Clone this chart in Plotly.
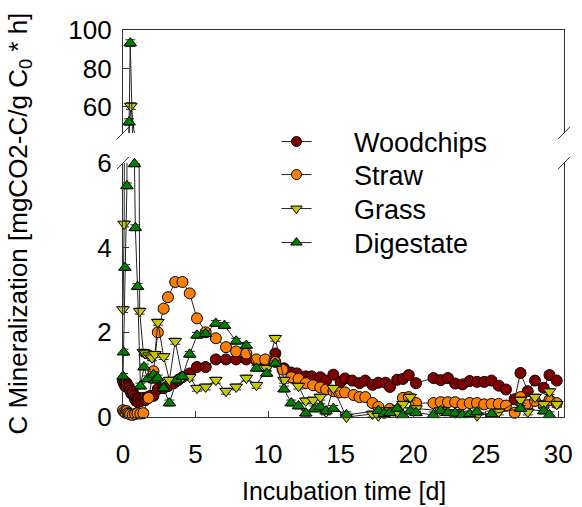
import plotly.graph_objects as go

# ---- measured mineralization rates [mgCO2-C / g C0 * h] over incubation time [d] ----
wood_t = [0.0, 0.08, 0.17, 0.25, 0.33, 0.42, 0.5, 0.58, 0.67, 0.75, 0.83, 0.92, 1.0, 1.1, 1.25,
          1.4, 1.55, 1.7, 1.9, 2.1, 2.4, 2.8, 3.1, 3.5, 3.8, 4.1, 4.6, 5.1, 5.7, 6.4, 7.1, 7.8,
          8.5, 9.2, 9.8, 10.5, 11.1, 11.6, 12.0, 12.6, 13.0, 13.6, 14.0, 14.5, 15.0, 15.3, 15.8,
          16.3, 16.7, 17.2, 17.6, 18.1, 18.4, 18.9, 19.3, 19.7, 20.2, 21.4, 21.9, 22.4, 22.9,
          23.4, 23.9, 24.4, 24.9, 25.4, 25.9, 26.4, 27.0, 27.4, 27.9, 28.4, 29.0, 29.4, 29.9]
wood_v = [0.85, 0.78, 0.72, 0.80, 0.75, 0.70, 0.62, 0.55, 0.60, 0.50, 0.42, 0.38, 0.35, 0.45, 0.38,
          0.45, 0.40, 0.47, 0.50, 0.50, 0.66, 0.68, 0.73, 0.80, 0.87, 0.94, 1.03, 1.18, 1.18, 1.36,
          1.36, 1.36, 1.36, 1.33, 1.33, 1.50, 1.15, 1.05, 1.03, 0.96, 0.96, 0.94, 0.86, 1.00, 0.83,
          0.91, 0.86, 0.80, 0.86, 0.76, 0.81, 0.81, 0.71, 0.88, 0.90, 0.99, 0.80, 0.92, 0.87, 0.92,
          0.79, 0.77, 0.85, 0.83, 0.83, 0.86, 0.74, 0.65, 0.42, 1.04, 0.61, 0.86, 0.69, 0.99, 0.86]

straw_t = [0.0, 0.08, 0.17, 0.25, 0.33, 0.42, 0.5, 0.67, 0.83, 1.0, 1.2, 1.4, 1.76, 2.1, 2.4, 2.8,
           3.1, 3.6, 4.1, 4.6, 5.1, 5.7, 6.4, 7.1, 7.8, 8.5, 9.2, 9.8, 10.5, 11.0, 11.6, 12.1, 12.6,
           13.1, 13.6, 14.0, 14.5, 14.9, 15.3, 15.9, 16.3, 16.7, 17.2, 17.6, 18.0, 18.4, 18.9, 19.3,
           19.7, 20.2, 21.4, 21.9, 22.4, 22.9, 23.4, 23.9, 24.4, 24.9, 25.4, 25.9, 26.4, 27.0, 27.4,
           27.9, 28.4, 29.0, 29.4, 29.9]
straw_v = [0.16, 0.12, 0.10, 0.14, 0.09, 0.08, 0.06, 0.05, 0.07, 0.09, 0.08, 0.09, 0.45, 1.08, 2.00,
           2.56, 2.83, 3.19, 3.19, 2.92, 2.33, 2.00, 1.86, 1.65, 1.55, 1.50, 1.36, 1.36, 1.30, 1.12,
           0.94, 0.90, 0.80, 0.75, 0.70, 0.65, 0.61, 0.58, 0.58, 0.52, 0.47, 0.47, 0.33, 0.24, 0.10,
           0.19, 0.15, 0.45, 0.47, 0.33, 0.33, 0.35, 0.35, 0.35, 0.30, 0.33, 0.33, 0.30, 0.31, 0.31,
           0.27, 0.10, 0.47, 0.28, 0.38, 0.27, 0.40, 0.33]

grass_t = [0.0, 0.08, 0.54, 1.15, 1.4, 1.55, 1.8, 2.0, 2.2, 2.4, 2.8, 3.2, 3.6, 4.1, 4.6, 5.1, 5.7,
           6.4, 7.1, 7.8, 8.5, 9.2, 9.9, 10.5, 11.1, 12.1, 12.6, 13.1, 13.6, 14.0, 14.5, 15.4, 17.2,
           17.6, 18.4, 18.9, 19.3, 19.8, 20.2, 21.9, 22.9, 24.4, 25.9, 27.4, 27.9, 28.4, 29.0, 29.4,
           29.9]
grass_v = [2.54, 4.56, 60.5, 2.50, 1.53, 1.50, 1.45, 1.40, 1.48, 2.24, 1.43, 0.87, 1.79, 0.94, 0.94,
           0.68, 0.71, 0.87, 0.61, 0.71, 0.92, 0.75, 1.15, 1.86, 0.87, 0.73, 0.38, 0.40, 0.47, 0.12,
           0.68, 0.00, 0.07, 0.03, 0.15, 0.10, 0.30, 0.47, 0.20, 0.15, 0.10, 0.03, 0.12, 0.40, 0.12,
           0.47, 0.30, 0.60, 0.30]

dig_t = [0.0, 0.04, 0.13, 0.27, 0.42, 0.5, 0.79, 0.85, 1.0, 1.2, 1.45, 1.7, 2.1, 2.2, 2.4, 2.8,
         3.2, 3.7, 4.1, 4.6, 5.1, 5.7, 6.4, 7.0, 7.8, 8.5, 9.2, 9.9, 10.5, 11.1, 11.6, 12.1, 12.6,
         13.2, 13.6, 14.0, 14.5, 15.4, 17.6, 18.0, 18.4, 18.9, 19.3, 19.8, 20.2, 21.4, 21.9, 22.4,
         22.9, 23.4, 23.9, 24.4, 25.4, 27.4, 29.0, 29.4]
dig_v = [0.96, 1.53, 3.53, 5.46, 52.2, 93.2, 5.98, 4.47, 3.08, 0.73, 1.18, 0.90, 1.00, 0.87, 0.92,
         0.68, 0.33, 0.87, 0.96, 1.48, 1.93, 1.97, 2.21, 2.16, 1.79, 1.69, 1.15, 1.03, 1.27, 0.66,
         0.33, 0.26, 0.09, 0.19, 0.24, 0.14, 0.20, 0.05, 0.15, 0.08, 0.10, 0.20, 0.05, 0.14, 0.10,
         0.05, 0.15, 0.10, 0.09, 0.05, 0.07, 0.12, 0.07, 0.20, 0.14, 0.05]

series = [
    ("Woodchips", wood_t, wood_v, "#800000", "circle"),
    ("Straw", straw_t, straw_v, "#FF8000", "circle"),
    ("Grass", grass_t, grass_v, "#C8C800", "triangle-down"),
    ("Digestate", dig_t, dig_v, "#008000", "triangle-up"),
]

LOW_RANGE = [0, 6.0]
HIGH_RANGE = [46.5, 100]
FONT = "Liberation Sans, Arial, sans-serif"
LINE = "#222222"
LEGEND_NAMES = ["legend", "legend2", "legend3", "legend4"]

fig = go.Figure()

for (name, t, v, color, symbol), lg in zip(series, LEGEND_NAMES):
    marker = dict(color=color, symbol=symbol, size=11, line=dict(color="#000000", width=1))
    for xa, ya, rng, err in (("x", "y", LOW_RANGE, 0.07), ("x2", "y2", HIGH_RANGE, 1.7)):
        # connecting line (clipped to the panel, so it runs off the edge at the axis break)
        fig.add_trace(go.Scatter(x=t, y=v, mode="lines", xaxis=xa, yaxis=ya,
                                 line=dict(color=LINE, width=1), cliponaxis=True,
                                 showlegend=False, legendgroup=name, hoverinfo="skip"))
        # markers inside this panel's range
        pts = [(a, b) for a, b in zip(t, v) if rng[0] <= b <= rng[1]]
        fig.add_trace(go.Scatter(x=[p[0] for p in pts], y=[p[1] for p in pts], mode="markers",
                                 xaxis=xa, yaxis=ya, marker=marker, cliponaxis=False,
                                 error_y=dict(type="constant", value=err, color=LINE,
                                              thickness=1, width=5),
                                 showlegend=False, legendgroup=name, name=name))
    # legend entry (one legend box per series, stacked)
    fig.add_trace(go.Scatter(x=[None], y=[None], mode="lines+markers", xaxis="x", yaxis="y",
                             name="\u00a0\u00a0\u00a0\u00a0\u00a0" + name, legendgroup=name,
                             legend=lg,
                             marker=dict(color=color, symbol=symbol, size=10,
                                         line=dict(color="#000000", width=1)),
                             line=dict(color=LINE, width=1)))

axis_common = dict(showgrid=False, zeroline=False, linecolor="#333333", linewidth=1.3,
                   ticks="inside", ticklen=6, tickcolor="#333333",
                   tickfont=dict(family=FONT, size=26, color="#000000"))

legend_rows_px = [142, 175, 209, 243]
legend_layout = {}
for lg, ypx in zip(LEGEND_NAMES, legend_rows_px):
    legend_layout[lg] = dict(x=0.348, y=(417 - ypx) / 387, xanchor="left", yanchor="middle",
                             bgcolor="rgba(0,0,0,0)", itemwidth=30,
                             font=dict(family=FONT, size=27, color="#000000"))

fig.update_layout(
    width=582, height=507,
    margin=dict(l=123, r=9, t=30, b=90),
    paper_bgcolor="white", plot_bgcolor="white",
    font=dict(family=FONT, color="#000000"),
    xaxis=dict(domain=[0, 1], anchor="y", range=[0, 30.4], tickvals=[0, 5, 10, 15, 20, 25, 30],
               showline=True, mirror=False, ticklabelstandoff=14, **axis_common),
    yaxis=dict(domain=[0, 0.6563], anchor="x", range=LOW_RANGE, tickvals=[0, 2, 4, 6],
               showline=True, mirror=True, ticklabelstandoff=5, **axis_common),
    xaxis2=dict(domain=[0, 1], anchor="y2", matches="x", side="top", showline=True, mirror=False,
                showticklabels=False, ticks="", showgrid=False, zeroline=False,
                linecolor="#333333", linewidth=1.3),
    yaxis2=dict(domain=[0.7339, 1], anchor="x2", range=HIGH_RANGE, tickvals=[60, 80, 100],
                showline=True, mirror=True, ticklabelstandoff=5, **axis_common),
    showlegend=True,
    **legend_layout,
)

# axis-break slashes on both vertical axes
gap_low = 0.6563
gap_high = 0.7339
dx, dy = 0.0133, 0.0155
for xp in (0, 1):
    for yp in (gap_low, gap_high):
        fig.add_shape(type="line", xref="paper", yref="paper",
                      x0=xp - dx, y0=yp - dy, x1=xp + dx, y1=yp + dy,
                      line=dict(color="#333333", width=1))

fig.add_annotation(text="C Mineralization [mgCO2-C/g C<sub>0</sub> * h]", textangle=-90,
                   xref="paper", yref="paper", x=-0.2356, y=0.5, xanchor="center",
                   yanchor="middle", showarrow=False,
                   font=dict(family=FONT, size=26, color="#000000"))
fig.add_annotation(text="Incubation time [d]", xref="paper", yref="paper", x=0.5, y=-0.19,
                   xanchor="center", yanchor="middle", showarrow=False,
                   font=dict(family=FONT, size=25, color="#000000"))

fig.write_html("out.html")
